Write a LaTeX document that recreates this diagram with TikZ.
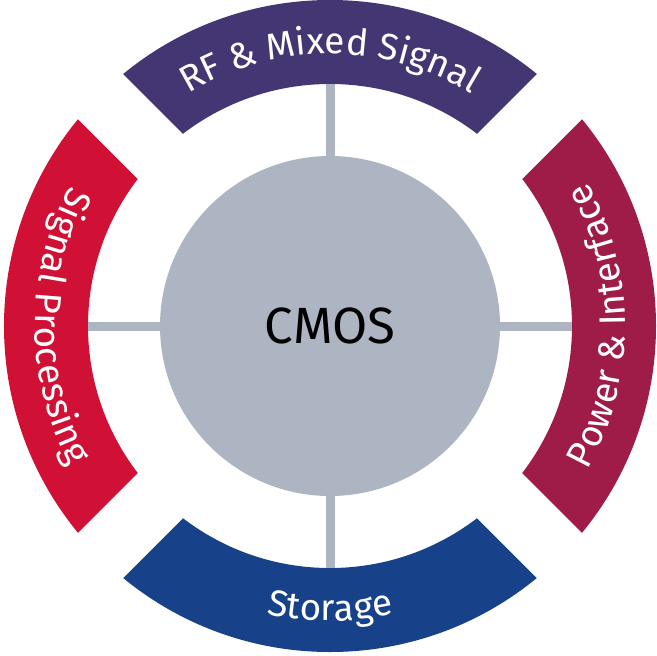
\documentclass[tikz,border=0pt]{standalone}
\usepackage{fontspec}
\setmainfont{Fira Sans}
\usetikzlibrary{decorations.text}

\definecolor{rfpurple}{RGB}{67,54,114}
\definecolor{sigred}{RGB}{208,16,52}
\definecolor{powred}{RGB}{160,28,72}
\definecolor{storblue}{RGB}{23,65,137}
\definecolor{coregray}{RGB}{173,181,195}

\newcommand{\segfont}{\fontsize{21}{25}\selectfont}

\begin{document}
\begin{tikzpicture}[
        stem/.style={draw=coregray, line width=0.18cm},
        bandtext/.style={decorate, decoration={text along path, text align=center, text color=white, text={#1}}}
    ]
        \useasboundingbox (-6.6,-6.58) rectangle (6.54,6.52);

        % Ring segments, cut apart by diagonal gaps
        \foreach \ang/\col in {0/rfpurple, 90/sigred, 180/storblue, 270/powred} {
            \begin{scope}
                \clip[rotate=\ang] (0,0.905) -- (-8,8.905) -- (8,8.905) -- cycle;
                \fill[\col, even odd rule] (0,0) circle (6.52) (0,0) circle (4.84);
            \end{scope}
        }

        % Inner ends of the stems
        \coordinate (rfin) at (90:4.84);
        \coordinate (sigin) at (180:4.84);
        \coordinate (storin) at (270:4.84);
        \coordinate (powin) at (0:4.84);

        % Core circle
        \node[circle, fill=coregray, minimum size=6.8cm, inner sep=0pt,
              font=\fontsize{29}{34}\selectfont] (core) at (0,0) {CMOS};

        \draw[stem] (core.north) -- (rfin);
        \draw[stem] (core.west) -- (sigin);
        \draw[stem] (core.south) -- (storin);
        \draw[stem] (core.east) -- (powin);

        % Labels along the segments
        \path[bandtext={|\segfont|RF {\&} Mixed Signal}] (135:5.44) arc[start angle=135, end angle=45, radius=5.44];
        \path[bandtext={|\segfont|Signal Processing}] (135:5.9) arc[start angle=135, end angle=225, radius=5.9];
        \path[bandtext={|\segfont|Storage}] (225:5.9) arc[start angle=225, end angle=315, radius=5.9];
        \path[bandtext={|\segfont|Power {\&} Interface}] (-45:5.9) arc[start angle=-45, end angle=45, radius=5.9];
    \end{tikzpicture}
\end{document}
